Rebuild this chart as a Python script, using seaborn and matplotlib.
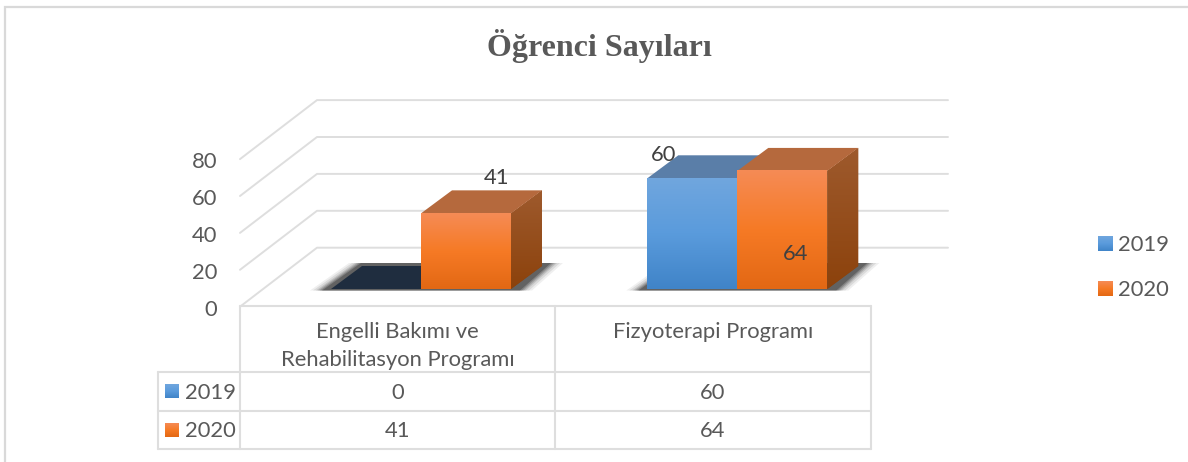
#!/usr/bin/env python3
import numpy as np
import pandas as pd
import matplotlib
matplotlib.use("Agg")
import matplotlib.pyplot as plt
import seaborn as sns
from matplotlib.colors import LinearSegmentedColormap
from matplotlib.patches import Polygon

# --- data ---
programs = ["Engelli Bakımı ve\nRehabilitasyon Programı", "Fizyoterapi Programı"]
years = ["2019", "2020"]
values_2019 = [0, 60]
values_2020 = [41, 64]
y_ticks = [0, 20, 40, 60, 80]
title = "Öğrenci Sayıları"

df = pd.DataFrame({
    "program": programs * 2,
    "year": [years[0]] * 2 + [years[1]] * 2,
    "value": values_2019 + values_2020,
})

# --- colours (bottom -> top of each gradient) ---
blue_grad = ["#4084c8", "#5a9bdc", "#70a6de"]
orange_grad = ["#e36814", "#f67a25", "#f58b55"]
blue_side = ["#3f6f9f", "#4f7aa5"]
orange_side = ["#8c420c", "#9e5a2d"]
top_cols = {"2019": "#5a7ea8", "2020": "#b5693d"}
grey_line = "#dedede"
txt = "#595959"
label_col = "#404040"
FS = 15.8

# pixel geometry of the fake 3D box
W, H = 1188, 462
PX_X = 316.3      # pixels per category
PX_Y = 1.845      # pixels per value unit
CAT0_X = 421.0    # pixel x of the first category
BASE_Y = 289.0    # pixel y of value 0 on the bar front
DEPTH_X, DEPTH_Y = 31.0, 23.0   # bar depth
FLOOR_X0, FLOOR_Y0 = 240.0, 306.7
BACK_X0, BACK_X1, BACK_Y0 = 317.0, 948.0, 247.7

sns.set_theme(style="white")
plt.rcParams["font.family"] = ["Lato", "DejaVu Sans"]

fig = plt.figure(figsize=(W / 100, H / 100), dpi=100, facecolor="white")

# background layer in pixel coordinates: frame, walls, table, legend
px = fig.add_axes([0, 0, 1, 1], zorder=0)
px.set_xlim(0, W)
px.set_ylim(H, 0)
px.set_autoscale_on(False)
px.set_axis_off()

# bar layer: same canvas, value/category scales
ax = fig.add_axes([0, 0, 1, 1], zorder=1)
ax.patch.set_alpha(0)
sns.barplot(data=df, x="program", y="value", hue="year", hue_order=years,
            palette=[blue_grad[1], orange_grad[1]], width=2 * 90 / PX_X, gap=0,
            legend=False, ax=ax, linewidth=0, saturation=1)
ax.set_xlim(-CAT0_X / PX_X, (W - CAT0_X) / PX_X)
ax.set_ylim(-(H - BASE_Y) / PX_Y, BASE_Y / PX_Y)
ax.set_autoscale_on(False)
ax.set_axis_off()

dx = DEPTH_X / PX_X
dy = DEPTH_Y / PX_Y


def gradient(target, left, right, bottom, top, colors, clip=None, z=3):
    cmap = LinearSegmentedColormap.from_list("g", colors)
    im = target.imshow(np.linspace(0, 1, 64).reshape(-1, 1), cmap=cmap, origin="lower",
                       extent=(left, right, bottom, top), aspect="auto", zorder=z,
                       interpolation="bilinear")
    if clip is not None:
        clip.set_transform(target.transData)
        im.set_clip_path(clip)
    return im


# frame
px.plot([4.5, 4.5, W], [H, 6.5, 6.5], color="#d9d9d9", lw=1.6, solid_joinstyle="miter")

# walls: one line per tick on the back wall, and one on the side wall
for t in y_ticks:
    y_back = BACK_Y0 - t * PX_Y
    y_front = FLOOR_Y0 - t * PX_Y
    px.plot([FLOOR_X0, BACK_X0, BACK_X1], [y_front, y_back, y_back], color=grey_line, lw=1.4)
    px.text(217, y_front + 3, str(t), ha="right", va="center", fontsize=FS, color=txt)

# soft shadows on the floor under each bar pair
for i in range(len(programs)):
    left = ax.containers[0][i].get_x()
    right = ax.containers[1][i].get_x() + ax.containers[1][i].get_width()
    for grow, alpha in zip([13, 10, 7, 5, 3, 1], [0.07, 0.1, 0.14, 0.18, 0.24, 0.34]):
        g = grow / PX_X
        pts = [(left - g - 8 / PX_X, -1.5 / PX_Y), (right + g + 8 / PX_X, -1.5 / PX_Y),
               (right + dx + g + 8 / PX_X, dy + 3 / PX_Y), (left + dx - g, dy + 3 / PX_Y)]
        ax.add_patch(Polygon(pts, closed=True, fc="#222222", ec="none", alpha=alpha, zorder=1))

# 3D faces, built from the bars seaborn placed
for k, (year, cont) in enumerate(zip(years, ax.containers)):
    grad = blue_grad if k == 0 else orange_grad
    side = blue_side if k == 0 else orange_side
    for bar in cont:
        x0, w, h = bar.get_x(), bar.get_width(), bar.get_height()
        z = 3 + k * 3
        top_col = top_cols[year] if h > 0 else "#1f2d3f"
        ax.add_patch(Polygon([(x0, h), (x0 + w, h), (x0 + w + dx, h + dy), (x0 + dx, h + dy)],
                             closed=True, fc=top_col, ec="none", zorder=z + 1))
        if h > 0:
            side_pts = [(x0 + w, 0), (x0 + w + dx, dy), (x0 + w + dx, h + dy), (x0 + w, h)]
            ax.add_patch(Polygon(side_pts, closed=True, fc=side[0], ec="none", zorder=z - 0.5))
            gradient(ax, x0 + w, x0 + w + dx, 0, h + dy, side, clip=Polygon(side_pts, closed=True), z=z)
            gradient(ax, x0, x0 + w, 0, h, grad, z=z + 2)

# value labels, pixel nudges copy where the original put them
label_nudge = {(0, 1): (76, 35), (1, 0): (16, 23), (1, 1): (58, -83)}
for k, cont in enumerate(ax.containers):
    for i, bar in enumerate(cont):
        if (i, k) not in label_nudge:
            continue
        ax.annotate(str(int(bar.get_height())), (bar.get_x(), bar.get_height()),
                    xytext=label_nudge[(i, k)], textcoords="offset pixels",
                    ha="center", va="center", fontsize=FS, color=label_col, zorder=20)

# data table
col_x = [240, 555, 871]
row_y = [306, 372, 410.5, 448.7]
LEFT_X = 157.5
for x in col_x:
    px.plot([x, x], [row_y[0], row_y[-1]], color=grey_line, lw=1.5)
px.plot([LEFT_X, LEFT_X], [row_y[1], row_y[-1]], color=grey_line, lw=1.5)
px.plot([col_x[0], col_x[-1]], [row_y[0], row_y[0]], color=grey_line, lw=1.5)
for y in row_y[1:]:
    px.plot([LEFT_X, col_x[-1]], [y, y], color=grey_line, lw=1.5)

px.text(397.5, 346, programs[0], ha="center", va="center", fontsize=FS, color=txt, linespacing=1.55)
px.text(713, 332, programs[1], ha="center", va="center", fontsize=FS, color=txt)

for r, (year, vals, grad) in enumerate(zip(years, [values_2019, values_2020], [blue_grad, orange_grad])):
    cy = (row_y[r + 1] + row_y[r + 2]) / 2
    gradient(px, 165, 179, cy + 7, cy - 7, grad)
    px.text(185, cy + 1.5, year, ha="left", va="center", fontsize=FS, color=txt)
    for c, v in enumerate(vals):
        px.text((col_x[c] + col_x[c + 1]) / 2, cy + 1.5, str(v), ha="center", va="center",
                fontsize=FS, color=txt)

# legend on the right
for ly, year, grad in zip([244, 289], years, [blue_grad, orange_grad]):
    gradient(px, 1098, 1113, ly + 7.5, ly - 7.5, grad)
    px.text(1118, ly + 1, year, ha="left", va="center", fontsize=FS, color=txt)

px.text(599, 46, title, ha="center", va="center", fontsize=23, fontweight="bold",
        family="Liberation Serif", color=txt)

fig.savefig("out.png", dpi=100)
